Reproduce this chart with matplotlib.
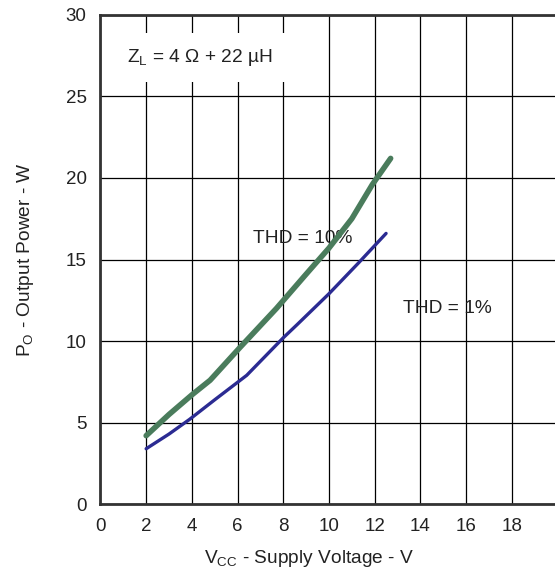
import numpy as np
import matplotlib.pyplot as plt

plt.rcParams['font.family'] = ['Liberation Sans', 'DejaVu Sans']

# THD = 10 % curve (green)
vcc_10 = [2.0, 3.0, 4.0, 4.8, 6.1, 7.7, 9.0, 10.0, 11.0, 11.9, 12.7]
po_10 = [4.2, 5.5, 6.7, 7.6, 9.6, 12.0, 14.1, 15.7, 17.5, 19.6, 21.2]

# THD = 1 % curve (blue)
vcc_1 = [2.0, 3.0, 3.9, 5.0, 6.4, 8.0, 8.6, 10.0, 11.3, 12.5]
po_1 = [3.4, 4.3, 5.2, 6.4, 7.9, 10.2, 11.0, 12.9, 14.8, 16.6]

x_ticks = [0, 2, 4, 6, 8, 10, 12, 14, 16, 18]
y_ticks = [0, 5, 10, 15, 20, 25, 30]

fig = plt.figure(figsize=(5.55, 5.71), dpi=100)
ax = fig.add_axes([0.181, 0.117, 0.8234, 0.857])

ax.set_xlim(0, 20)
ax.set_ylim(0, 30)
ax.set_xticks(x_ticks)
ax.set_yticks(y_ticks)
ax.grid(True, color='black', linewidth=0.9, zorder=0)
ax.set_axisbelow(True)
ax.tick_params(length=0, labelsize=13.5, pad=10, colors='#222222')

for side in ['left', 'bottom', 'top', 'right']:
    ax.spines[side].set_linewidth(2)
    ax.spines[side].set_color('#333333')

ax.plot(vcc_10, po_10, color='#4a7c5c', linewidth=4, solid_capstyle='round', zorder=4)
ax.plot(vcc_1, po_1, color='#2b2b92', linewidth=2.4, solid_capstyle='round', zorder=4)

ax.text(1.15, 27.4, r'Z$_\mathregular{L}$ = 4 Ω + 22 µH', fontsize=13.8, va='center',
        color='#222222', zorder=3,
        bbox=dict(facecolor='white', edgecolor='none', pad=10))
ax.text(6.67, 16.3, 'THD = 10%', fontsize=13.8, va='center', color='#222222', zorder=3)
ax.text(13.24, 12.0, 'THD = 1%', fontsize=13.8, va='center', color='#222222', zorder=3)

ax.set_xlabel(r'V$_\mathregular{CC}$ - Supply Voltage - V', fontsize=13.8, color='#222222')
ax.xaxis.set_label_coords(0.456, -0.09)
ax.set_ylabel(r'P$_\mathregular{O}$ - Output Power - W', fontsize=13.8, color='#222222')
ax.yaxis.set_label_coords(-0.142, 0.5)

fig.savefig('out.png', dpi=100)
